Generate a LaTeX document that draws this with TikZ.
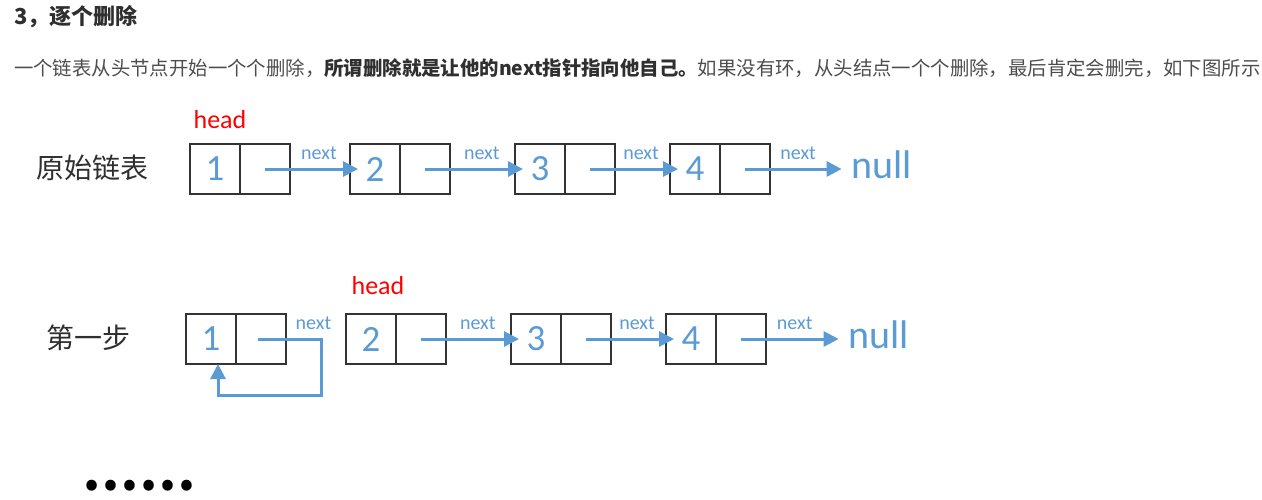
\documentclass[tikz,border=0pt]{standalone}
\usepackage{fontspec}
\setmainfont{Carlito}
\newfontfamily\cjk{Noto Sans CJK SC}
\usetikzlibrary{arrows.meta, positioning}
\definecolor{listblue}{HTML}{5B9BD5}
\definecolor{listred}{HTML}{FF0000}
\definecolor{textgrey}{HTML}{4D4D4D}
\definecolor{textdark}{HTML}{2F2F2F}
\tikzset{
  >={Triangle[length=15pt, width=15pt]},
  listcell/.style={rectangle, draw=black!80, line width=1.3pt, outer sep=0pt, inner sep=0pt,
                   minimum width=50pt, minimum height=50pt},
  valcell/.style={listcell, text=listblue, font=\fontsize{37}{37}\selectfont},
  link/.style={->, line width=3pt, draw=listblue},
  nextlbl/.style={above=8pt, inner sep=0pt, text=listblue, font=\fontsize{20}{20}\selectfont},
  headlbl/.style={text=listred, font=\fontsize{26}{26}\selectfont},
  nulllbl/.style={inner sep=0pt, text=listblue, font=\fontsize{40}{40}\selectfont},
  rowname/.style={text=textdark, font=\cjk\fontsize{28}{28}\selectfont},
}

\begin{document}
\begin{tikzpicture}[x=1pt, y=-1pt]
  \useasboundingbox (0,0) rectangle (1262,499);
  % heading and sentence
  \node[anchor=west, inner sep=0pt, text=textdark, font=\cjk\bfseries\fontsize{22}{22}\selectfont] (title) at (14,17) {3，逐个删除};
  \node[anchor=west, inner sep=0pt, text=textgrey, font=\cjk\fontsize{19.4}{19.4}\selectfont] (intro) at (14,68)
    {一个链表从头节点开始一个个删除，\textbf{\color{textdark}所谓删除就是让他的next指针指向他自己。}如果没有环，从头结点一个个删除，最后肯定会删完，如下图所示};

  % original list
  \node[rowname] (orig) at (92,168) {原始链表};
  \foreach \i/\x in {1/215, 2/375, 3/540, 4/695}{
    \node[valcell] (a\i) at (\x,169) {\i};
    \node[listcell, right=0pt of a\i] (ap\i) {};
  }
  \node[nulllbl] (anull) at (882,165) {null};
  \node[headlbl] (ahead) at (220,120) {head};
  \foreach \i/\j in {1/2, 2/3, 3/4}{
    \draw[link] (ap\i.center) -- ([xshift=8pt]a\j.west) node[nextlbl, pos=0.58] {next};
  }
  \draw[link] (ap4.center) -- ([xshift=-10pt]anull.west |- ap4.center) node[nextlbl, pos=0.55] {next};

  % step one: node 1 points to itself
  \node[rowname] (step) at (88,338) {第一步};
  \foreach \i/\x in {1/211, 2/371, 3/536, 4/691}{
    \node[valcell] (b\i) at (\x,339) {\i};
    \node[listcell, right=0pt of b\i] (bp\i) {};
  }
  \node[nulllbl] (bnull) at (879,335) {null};
  \node[headlbl] (bhead) at (378,286) {head};
  \draw[link] ([xshift=-3pt]bp1.center) -- ++(63,0) node[nextlbl, pos=0.88] {next} -- ++(0,56) -| ([xshift=7pt]b1.south);
  \foreach \i/\j in {2/3, 3/4}{
    \draw[link] (bp\i.center) -- ([xshift=8pt]b\j.west) node[nextlbl, pos=0.58] {next};
  }
  \draw[link] (bp4.center) -- ([xshift=-10pt]bnull.west |- bp4.center) node[nextlbl, pos=0.55] {next};

  % and so on
  \node[font=\cjk\bfseries\fontsize{50}{50}\selectfont] (more) at (139,486) {……};
\end{tikzpicture}
\end{document}
